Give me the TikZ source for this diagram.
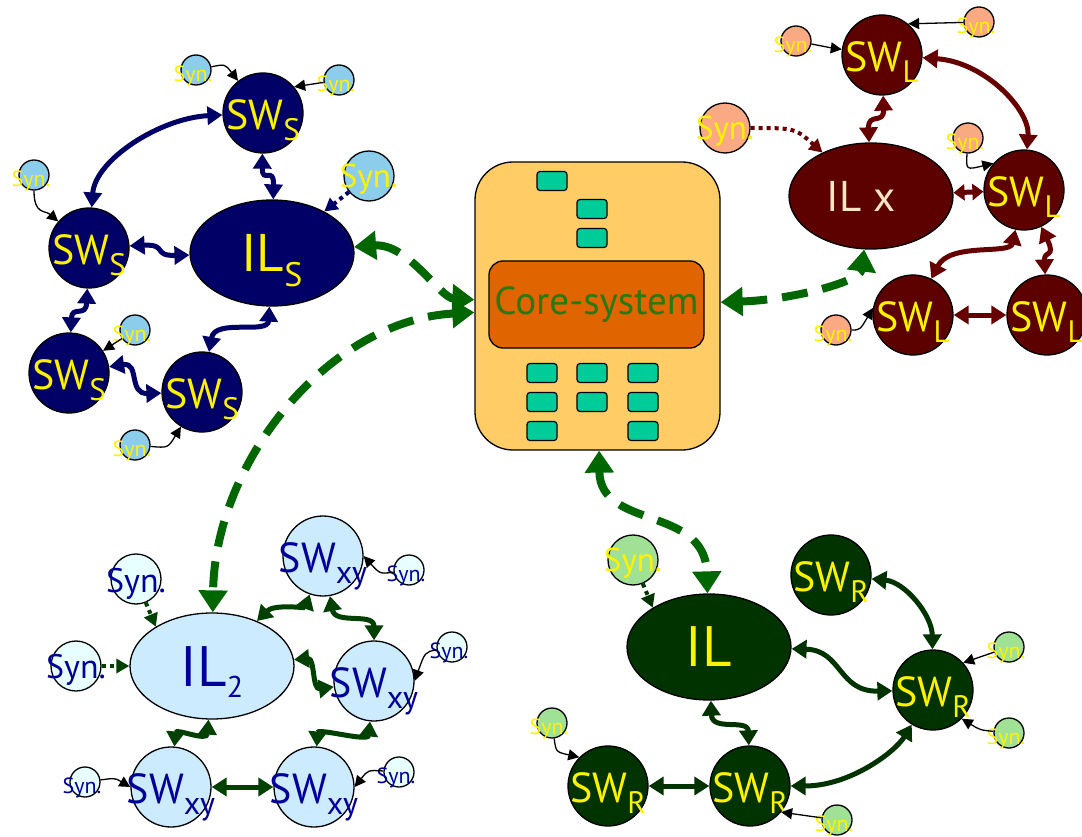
\documentclass[tikz,border=0pt]{standalone}
\usepackage{fontspec}
\setmainfont{PT Sans}
\usetikzlibrary{arrows.meta,shapes.geometric}
\definecolor{navyfill}{RGB}{0,0,102}
\definecolor{maroonfill}{RGB}{92,0,0}
\definecolor{maroonline}{RGB}{102,0,0}
\definecolor{dgreenfill}{RGB}{0,51,0}
\definecolor{dgreenline}{RGB}{0,64,0}
\definecolor{lblue}{RGB}{204,235,255}
\definecolor{dbluetext}{RGB}{0,0,153}
\definecolor{synblue}{RGB}{140,205,235}
\definecolor{synpeach}{RGB}{250,170,130}
\definecolor{syngreen}{RGB}{160,225,150}
\definecolor{synpale}{RGB}{232,255,255}
\definecolor{boxfill}{RGB}{255,204,102}
\definecolor{corefill}{RGB}{224,100,0}
\definecolor{coretext}{RGB}{40,120,20}
\definecolor{tealbox}{RGB}{0,204,153}
\definecolor{dashgreen}{RGB}{0,102,0}
\definecolor{ilxtext}{RGB}{255,228,196}
\newcommand{\SWsub}[1]{\fontsize{42}{42}\selectfont SW\raisebox{-11pt}{\fontsize{31}{31}\selectfont #1}}
\newcommand{\SWxy}{\fontsize{42}{42}\selectfont SW\raisebox{-11pt}{\fontsize{32}{32}\selectfont xy}}
\newcommand{\synsmall}{\fontsize{22}{22}\selectfont Syn.}
\newcommand{\synlarge}{\fontsize{33}{33}\selectfont Syn.}
\tikzset{
  swnode/.style={circle, draw=black, line width=1.3pt, minimum size=80pt, inner sep=0pt},
  ilnode/.style={ellipse, draw=black, line width=1.3pt, minimum width=164pt, minimum height=106pt, inner sep=0pt},
  synnode/.style={circle, draw=black, line width=1.3pt, minimum size=30pt, inner sep=0pt},
  synbig/.style={circle, draw=black, line width=1.3pt, minimum size=50pt, inner sep=0pt},
  swlab/.style={inner sep=0pt, yshift=-7.5pt},
  synlab/.style={inner sep=0pt, xshift=-3pt, yshift=-6pt},
  synbiglab/.style={inner sep=0pt, yshift=-3pt},
  tbox/.style={rectangle, rounded corners=3pt, draw=black, line width=1.2pt, fill=tealbox, minimum width=30pt, minimum height=19pt, inner sep=0pt},
  conn/.style={line width=5pt, arrows={Triangle[length=15pt,width=18pt]-Triangle[length=15pt,width=18pt]}},
  shortconn/.style={line width=5pt, arrows={Triangle[length=11pt,width=16pt]-Triangle[length=11pt,width=16pt]}},
  synarr/.style={line width=1.3pt, black, -{Triangle[length=11pt,width=11pt]}},
  dotarr/.style={line width=4pt, dash pattern=on 4pt off 4pt, -{Triangle[length=13pt,width=14pt]}},
  dasharr/.style={line width=8pt, dashgreen, dash pattern=on 26pt off 15pt, arrows={Triangle[length=22pt,width=28pt]-Triangle[length=22pt,width=28pt]}}
}
\begin{document}
\begin{tikzpicture}[x=1pt,y=-1pt]
\fill[white] (0,0) rectangle (1082,837);
\useasboundingbox (0,0) rectangle (1082,837);

% ---------- top-left cluster ----------
\node[swnode, fill=navyfill, label={[swlab, text=yellow]center:\SWsub{S}}] (sT) at (263,113) {};
\node[swnode, fill=navyfill, label={[swlab, text=yellow]center:\SWsub{S}}] (sL) at (89,248) {};
\node[swnode, fill=navyfill, label={[swlab, text=yellow]center:\SWsub{S}}] (sBL) at (69,373) {};
\node[swnode, fill=navyfill, label={[swlab, text=yellow]center:\SWsub{S}}] (sBM) at (202,392) {};
\node[ilnode, fill=navyfill, label={[inner sep=0pt, yshift=-8pt, text=yellow]center:{\fontsize{53}{53}\selectfont IL\raisebox{-15pt}{\fontsize{34}{34}\selectfont S}}}] (ilS) at (272,253) {};
\node[synnode, fill=synblue, label={[synlab, text=yellow]center:\synsmall}] (sy1) at (196,70) {};
\node[synnode, fill=synblue, label={[synlab, text=yellow]center:\synsmall}] (sy2) at (339,80) {};
\node[synnode, fill=synblue, label={[synlab, text=yellow]center:\synsmall}] (sy3) at (34,175) {};
\node[synbig, fill=synblue, label={[synbiglab, text=yellow]center:\synlarge}] (sy4) at (369,176) {};
\node[synnode, fill=synblue, label={[synlab, text=yellow]center:\synsmall}] (sy5) at (135,330) {};
\node[synnode, fill=synblue, label={[synlab, text=yellow]center:\synsmall}] (sy6) at (135,445) {};

\draw[conn, navyfill] (sT) .. controls (160,118) and (95,160) .. (sL);
\draw[conn, navyfill] (sT) .. controls (262,185) and (274,165) .. (ilS);
\draw[conn, navyfill] (sL) .. controls (168,244) and (152,256) .. (ilS);
\draw[conn, navyfill] (sL) .. controls (86,318) and (72,305) .. (sBL);
\draw[conn, navyfill] (sBL) .. controls (140,362) and (128,394) .. (sBM);
\draw[conn, navyfill] (ilS) .. controls (268,335) and (215,318) .. (sBM);
\draw[synarr] (sy1) .. controls (225,64) .. (sT);
\draw[synarr] (sy2) -- (sT.40);
\draw[synarr] (sy3) .. controls (34,215) and (45,210) .. (sL);
\draw[dotarr, navyfill] (sy4) -- (ilS);
\draw[synarr] (sy5) -- (sBL);
\draw[synarr] (sy6) .. controls (168,448) .. (sBM);

% ---------- top-right cluster ----------
\node[swnode, fill=maroonfill, label={[swlab, text=yellow]center:\SWsub{L}}] (lT) at (882,55) {};
\node[swnode, fill=maroonfill, label={[swlab, text=yellow]center:\SWsub{L}}] (lR) at (1024,190) {};
\node[swnode, fill=maroonfill, label={[swlab, text=yellow]center:\SWsub{L}}] (lBM) at (913,315) {};
\node[swnode, fill=maroonfill, label={[swlab, text=yellow]center:\SWsub{L}}] (lBR) at (1047,315) {};
\node[ilnode, fill=maroonfill, label={[inner sep=0pt, xshift=-10pt, text=ilxtext]center:{\fontsize{43}{43}\selectfont IL x}}] (ilx) at (871,196) {};
\node[synnode, fill=synpeach, label={[synlab, text=yellow]center:\synsmall}] (ly1) at (796,41) {};
\node[synnode, fill=synpeach, label={[synlab, text=yellow]center:\synsmall}] (ly2) at (979,22) {};
\node[synbig, fill=synpeach, label={[synbiglab, text=yellow]center:\synlarge}] (ly3) at (725,128) {};
\node[synnode, fill=synpeach, label={[synlab, text=yellow]center:\synsmall}] (ly4) at (968,138) {};
\node[synnode, fill=synpeach, label={[synlab, text=yellow]center:\synsmall}] (ly5) at (836,330) {};

\draw[conn, maroonline] (lT) .. controls (985,62) and (1030,110) .. (lR);
\draw[conn, maroonline] (lT) .. controls (884,125) and (868,112) .. (ilx);
\draw[shortconn, maroonline] (ilx) -- (lR);
\draw[conn, maroonline] (lR) .. controls (1010,255) and (950,242) .. (lBM);
\draw[conn, maroonline] (lR) .. controls (1056,258) and (1044,250) .. (lBR);
\draw[conn, maroonline] (lBM) -- (lBR);
\draw[synarr] (ly1) .. controls (832,48) .. (lT);
\draw[synarr] (ly2) -- (lT.50);
\draw[dotarr, maroonline] (ly3) .. controls (795,128) .. (ilx);
\draw[synarr] (ly4) .. controls (966,170) .. (lR.139);
\draw[synarr] (ly5) .. controls (860,330) .. (lBM.170);

% ---------- centre ----------
\node[rectangle, rounded corners=38pt, draw=black, line width=1.3pt, fill=boxfill, minimum width=245pt, minimum height=288pt] (box) at (597.5,306) {};
\node[rectangle, rounded corners=14pt, draw=black, line width=1.3pt, fill=corefill, minimum width=215pt, minimum height=87pt, text=coretext, font=\fontsize{39}{39}\selectfont] (core) at (596.5,304.5) {Core-system};
\node[tbox] (t1) at (552,181) {};
\node[tbox] (t2) at (592,209) {};
\node[tbox] (t3) at (592,238) {};
\node[tbox] (t4) at (542,373) {};
\node[tbox] (t5) at (592,373) {};
\node[tbox] (t6) at (643,373) {};
\node[tbox] (t7) at (542,402) {};
\node[tbox] (t8) at (592,402) {};
\node[tbox] (t9) at (643,402) {};
\node[tbox] (t10) at (542,431) {};
\node[tbox] (t11) at (643,431) {};

% ---------- bottom-left cluster ----------
\node[ilnode, fill=lblue, label={[inner sep=0pt, yshift=-6.5pt, text=dbluetext]center:{\fontsize{57}{57}\selectfont IL\raisebox{-11pt}{\fontsize{30}{30}\selectfont 2}}}] (il2) at (212,666) {};
\node[swnode, fill=lblue, label={[inner sep=0pt, yshift=-10pt, text=dbluetext]center:\SWxy}] (xT) at (323,556) {};
\node[swnode, fill=lblue, label={[inner sep=0pt, yshift=-10pt, text=dbluetext]center:\SWxy}] (xR) at (374,681) {};
\node[swnode, fill=lblue, label={[inner sep=0pt, yshift=-10pt, text=dbluetext]center:\SWxy}] (xBL) at (171,787) {};
\node[swnode, fill=lblue, label={[inner sep=0pt, yshift=-10pt, text=dbluetext]center:\SWxy}] (xBR) at (314,787) {};
\node[synbig, fill=synpale, label={[synbiglab, text=dbluetext, yshift=-2pt]center:{\fontsize{34}{34}\selectfont Syn.}}] (xy1) at (136,579) {};
\node[synbig, fill=synpale, label={[synbiglab, text=dbluetext, yshift=-1pt]center:{\fontsize{34}{34}\selectfont Syn.}}] (xy2) at (76,666) {};
\node[synnode, fill=synpale, label={[synlab, text=dbluetext]center:\synsmall}] (xy3) at (409,570) {};
\node[synnode, fill=synpale, label={[synlab, text=dbluetext]center:\synsmall}] (xy4) at (452,647) {};
\node[synnode, fill=synpale, label={[synlab, text=dbluetext]center:\synsmall}] (xy5) at (85,782) {};
\node[synnode, fill=synpale, label={[synlab, text=dbluetext]center:\synsmall}] (xy6) at (399,772) {};

\draw[conn, dgreenline] (il2) .. controls (274,604) and (305,608) .. (xT);
\draw[conn, dgreenline] (xT) .. controls (335,625) and (374,612) .. (xR);
\draw[conn, dgreenline] (il2) .. controls (315,658) and (312,690) .. (xR);
\draw[conn, dgreenline] (il2) .. controls (207,742) and (176,728) .. (xBL);
\draw[conn, dgreenline] (xR) .. controls (368,742) and (318,728) .. (xBR);
\draw[conn, dgreenline] (xBL) -- (xBR);
\draw[dotarr, dgreenline] (xy1) -- (il2.145);
\draw[dotarr, dgreenline] (xy2) -- (il2);
\draw[synarr] (xy3) .. controls (380,574) .. (xT.east);
\draw[synarr] (xy4) .. controls (425,652) .. (xR.east);
\draw[synarr] (xy5) .. controls (115,778) .. (xBL.west);
\draw[synarr] (xy6) .. controls (368,770) .. (xBR.east);

% ---------- bottom-right cluster ----------
\node[ilnode, fill=dgreenfill, label={[inner sep=0pt, text=yellow]center:{\fontsize{57}{57}\selectfont IL}}] (ilR) at (709,647) {};
\node[swnode, fill=dgreenfill, label={[swlab, text=yellow]center:\SWsub{R}}] (rT) at (831,575) {};
\node[swnode, fill=dgreenfill, label={[swlab, text=yellow]center:\SWsub{R}}] (rR) at (933,690) {};
\node[swnode, fill=dgreenfill, label={[swlab, text=yellow]center:\SWsub{R}}] (rBL) at (608,786) {};
\node[swnode, fill=dgreenfill, label={[swlab, text=yellow]center:\SWsub{R}}] (rBM) at (750,786) {};
\node[synbig, fill=syngreen, label={[synbiglab, text=yellow]center:\synlarge}] (ry1) at (633,560) {};
\node[synnode, fill=syngreen, label={[synlab, text=yellow]center:\synsmall}] (ry2) at (552,723) {};
\node[synnode, fill=syngreen, label={[synlab, text=yellow]center:\synsmall}] (ry3) at (837,820) {};
\node[synnode, fill=syngreen, label={[synlab, text=yellow]center:\synsmall}] (ry4) at (1009,647) {};
\node[synnode, fill=syngreen, label={[synlab, text=yellow]center:\synsmall}] (ry5) at (1009,733) {};

\draw[conn, dgreenfill] (rT) .. controls (905,582) and (932,615) .. (rR);
\draw[conn, dgreenfill] (ilR) .. controls (842,650) and (838,692) .. (rR);
\draw[conn, dgreenfill] (ilR) .. controls (712,732) and (748,718) .. (rBM);
\draw[conn, dgreenfill] (rBL) -- (rBM);
\draw[conn, dgreenfill] (rBM) .. controls (850,786) and (895,752) .. (rR);
\draw[dotarr, dgreenfill] (ry1) -- (ilR.145);
\draw[synarr] (ry2) .. controls (556,752) .. (rBL.135);
\draw[synarr] (ry3) -- (rBM.-40);
\draw[synarr] (ry4) -- (rR.42);
\draw[synarr] (ry5) .. controls (980,730) .. (rR.-45);

% ---------- dashed links to the core system ----------
\draw[dasharr] (ilS) .. controls (408,243) and (440,298) .. (box);
\draw[dasharr] (box) .. controls (330,320) and (215,460) .. (il2);
\draw[dasharr] (box) .. controls (790,300) and (860,282) .. (ilx);
\draw[dasharr] (box) .. controls (600,530) and (705,505) .. (ilR);
\end{tikzpicture}
\end{document}
